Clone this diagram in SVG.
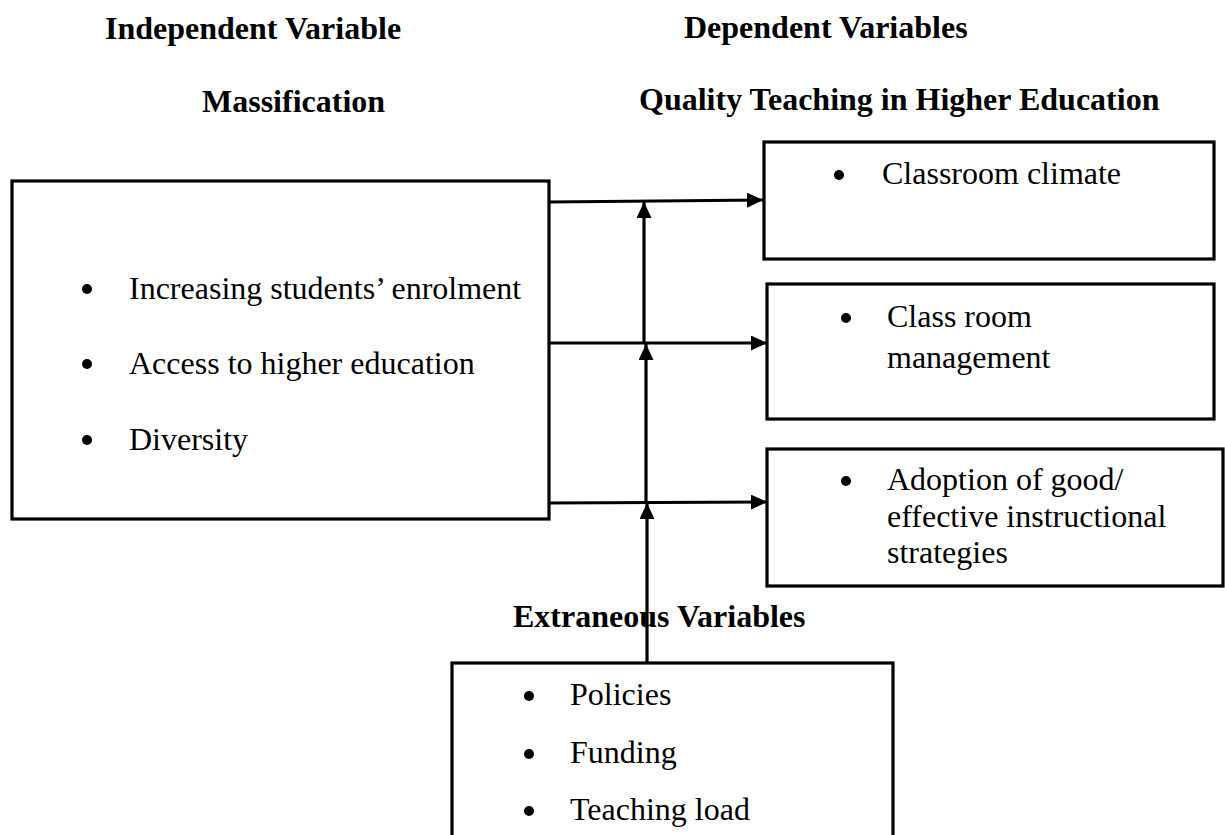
<svg xmlns="http://www.w3.org/2000/svg" width="1225" height="835" viewBox="0 0 1225 835">
<defs>
<style>
.t{font-family:"Liberation Serif","Times New Roman",serif;font-size:32px;fill:#000}
.b{font-weight:bold}
.box{fill:#fff;stroke:#000;stroke-width:3.2}
.dot{fill:#000}
.c{stroke:#000;fill:none;stroke-width:3.2}
</style>
<marker id="ah" markerUnits="userSpaceOnUse" markerWidth="17" markerHeight="16" refX="16" refY="7.5" orient="auto">
<path d="M0,0 L16,7.5 L0,15 Z" fill="#000"/>
</marker>
</defs>
<rect width="1225" height="835" fill="#fff"/>
<g id="titles">
<text class="t b" x="105" y="39">Independent Variable</text>
<text class="t b" x="684" y="38">Dependent Variables</text>
<text class="t b" x="202" y="112">Massification</text>
<text class="t b" x="639" y="110">Quality Teaching in Higher Education</text>
<text class="t b" x="513" y="627">Extraneous Variables</text>
</g>
<g id="massification">
<rect class="box" x="12" y="181" width="537" height="338"/>
<circle class="dot" cx="87" cy="289" r="5"/>
<text class="t" x="129" y="299">Increasing students’ enrolment</text>
<circle class="dot" cx="87" cy="364" r="5"/>
<text class="t" x="129" y="374">Access to higher education</text>
<circle class="dot" cx="87" cy="440" r="5"/>
<text class="t" x="129" y="450">Diversity</text>
</g>
<g id="climate">
<rect class="box" x="764" y="142" width="450" height="117"/>
<circle class="dot" cx="839" cy="175" r="5"/>
<text class="t" x="882" y="184">Classroom climate</text>
</g>
<g id="management">
<rect class="box" x="767" y="284" width="447" height="135"/>
<circle class="dot" cx="846" cy="318" r="5"/>
<text class="t" x="887" y="327">Class room</text>
<text class="t" x="887" y="368">management</text>
</g>
<g id="strategies">
<rect class="box" x="767" y="449" width="456" height="137"/>
<circle class="dot" cx="846" cy="481" r="5"/>
<text class="t" x="887" y="490">Adoption of good/</text>
<text class="t" x="887" y="527">effective instructional</text>
<text class="t" x="887" y="563">strategies</text>
</g>
<g id="extraneous">
<rect class="box" x="452" y="663" width="441" height="190"/>
<circle class="dot" cx="529" cy="696" r="5"/>
<text class="t" x="570" y="705">Policies</text>
<circle class="dot" cx="529" cy="754" r="5"/>
<text class="t" x="570" y="763">Funding</text>
<circle class="dot" cx="529" cy="811" r="5"/>
<text class="t" x="570" y="820">Teaching load</text>
</g>
<g id="connectors">
<line class="c" x1="549" y1="202" x2="763" y2="200" stroke-width="2.4" marker-end="url(#ah)"/>
<line class="c" x1="549" y1="343" x2="767" y2="343" marker-end="url(#ah)"/>
<line class="c" x1="549" y1="503" x2="767" y2="502" marker-end="url(#ah)"/>
<line class="c" x1="647" y1="663" x2="647" y2="503" stroke-width="4" marker-end="url(#ah)"/>
<line class="c" x1="646" y1="503" x2="646" y2="344" stroke-width="3.6" marker-end="url(#ah)"/>
<line class="c" x1="644" y1="343" x2="644" y2="202" marker-end="url(#ah)"/>
</g>
</svg>
